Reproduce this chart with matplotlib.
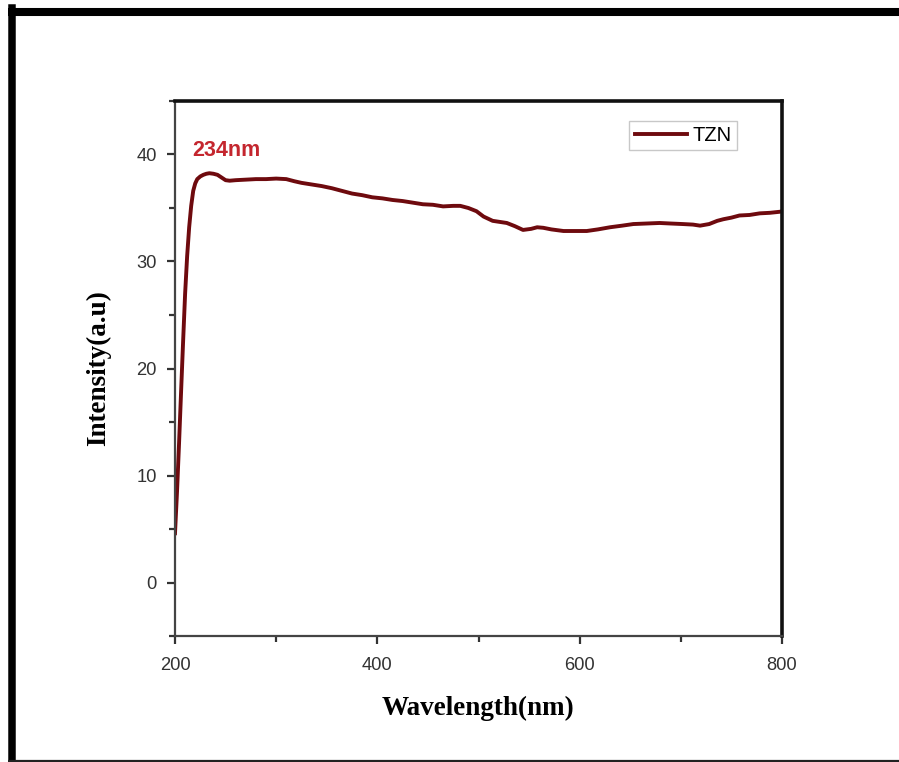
import matplotlib
matplotlib.use("Agg")
import matplotlib.pyplot as plt
from matplotlib.lines import Line2D
from matplotlib.ticker import MultipleLocator

# Absorbance spectrum of the TZN sample
wavelength = [200, 202, 204, 206, 208, 210, 212, 214, 216, 218, 220, 222, 225, 228,
              231, 234, 238, 242, 246, 250, 254, 260, 270, 280, 290, 300, 310, 318,
              325, 335, 345, 355, 365, 375, 385, 395, 405, 415, 425, 435, 445, 455,
              465, 475, 482, 490, 498, 505, 514, 521, 528, 536, 544, 552, 558, 564,
              572, 584, 596, 607, 618, 630, 642, 653, 666, 679, 690, 702, 712, 719,
              728, 736, 742, 750, 758, 768, 778, 788, 798, 800]
intensity = [4.6, 8.5, 13.0, 17.8, 22.5, 27.0, 30.5, 33.2, 35.2, 36.6, 37.3, 37.7, 37.95, 38.1,
             38.2, 38.25, 38.2, 38.1, 37.85, 37.6, 37.55, 37.6, 37.65, 37.7, 37.7, 37.75, 37.7, 37.5,
             37.35, 37.2, 37.05, 36.85, 36.6, 36.35, 36.2, 36.0, 35.9, 35.75, 35.65, 35.5, 35.35, 35.3,
             35.15, 35.2, 35.2, 35.0, 34.7, 34.2, 33.8, 33.7, 33.6, 33.3, 32.95, 33.05, 33.2, 33.15,
             33.0, 32.85, 32.85, 32.85, 33.0, 33.2, 33.35, 33.5, 33.55, 33.6, 33.55, 33.5, 33.45, 33.35,
             33.5, 33.8, 33.95, 34.1, 34.3, 34.35, 34.5, 34.55, 34.65, 34.7]

series_label = "TZN"
peak_label = "234nm"
x_ticks = [200, 400, 600, 800]
y_ticks = [0, 10, 20, 30, 40]

fig = plt.figure(figsize=(8.99, 7.62), dpi=100)
ax = fig.add_axes([175 / 899, 126 / 762, 607 / 899, 535 / 762])

ax.plot(wavelength, intensity, color="#6e0a0e", linewidth=2.8,
        solid_joinstyle="round", label=series_label)

ax.set_xlim(200, 800)
ax.set_ylim(-5, 45)
ax.set_xticks(x_ticks)
ax.set_yticks(y_ticks)
ax.xaxis.set_minor_locator(MultipleLocator(100))
ax.yaxis.set_minor_locator(MultipleLocator(5))

ax.tick_params(which="major", direction="out", length=6, width=1.6,
               color="#333333", labelcolor="#333333", top=False, right=False)
ax.tick_params(axis="x", which="major", pad=9)
ax.tick_params(axis="y", which="major", pad=7)
ax.tick_params(which="minor", direction="out", length=4, width=1.6,
               color="#333333", top=False, right=False)
for lab in ax.get_xticklabels() + ax.get_yticklabels():
    lab.set_fontfamily("Liberation Sans")
    lab.set_fontsize(13.2)

for side in ("left", "bottom"):
    ax.spines[side].set_linewidth(1.6)
    ax.spines[side].set_color("#444444")
for side in ("top", "right"):
    ax.spines[side].set_linewidth(2.6)
    ax.spines[side].set_color("#111111")

label_font = {"family": "Liberation Serif", "weight": "bold", "size": 19.5}
ax.set_xlabel("Wavelength(nm)", fontdict=label_font, labelpad=16)
ax.set_ylabel("Intensity(a.u)", fontdict=label_font, labelpad=18)

ax.text(217, 39.4, peak_label, color="#c4262e", fontsize=15.5, fontweight="bold",
        family="Liberation Sans", ha="left", va="bottom")

leg = ax.legend(loc="upper right", bbox_to_anchor=(0.926, 0.962), frameon=True,
                fancybox=False, prop={"family": "Liberation Sans", "size": 14.5},
                handlelength=2.6, handletextpad=0.3, borderpad=0.25,
                borderaxespad=0.0)
leg.get_frame().set_edgecolor("#bbbbbb")
leg.get_frame().set_linewidth(1.0)

# Heavy black frame round the figure
fig.add_artist(Line2D([11.5 / 899, 11.5 / 899], [0, 1 - 8 / 762],
                      transform=fig.transFigure, color="black", linewidth=5.4,
                      solid_capstyle="projecting"))
fig.add_artist(Line2D([8 / 899, 1.0], [1 - 12 / 762, 1 - 12 / 762],
                      transform=fig.transFigure, color="black", linewidth=5.8,
                      solid_capstyle="butt"))
fig.add_artist(Line2D([8 / 899, 1.0], [1 / 762, 1 / 762],
                      transform=fig.transFigure, color="#222222", linewidth=1.6,
                      solid_capstyle="butt"))

fig.savefig("out.png", dpi=100)
